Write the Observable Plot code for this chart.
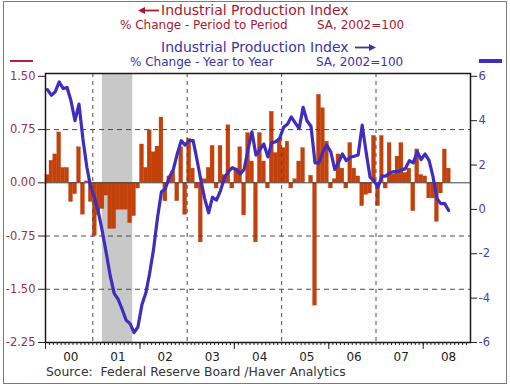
<!DOCTYPE html>
<html><head><meta charset="utf-8">
<script src="https://cdn.jsdelivr.net/npm/d3@7"></script>
<script src="https://cdn.jsdelivr.net/npm/@observablehq/plot@0.6"></script>
<style>
body{margin:0;background:#fff;font-family:"DejaVu Sans",sans-serif;}
#wrap{position:relative;width:510px;height:386px;overflow:hidden;background:#fff;}
.t{position:absolute;white-space:pre;line-height:0.9;}
.red{color:#a51932;}
.blue{color:#3c32aa;}
#border{position:absolute;left:3px;top:1px;width:502px;height:381px;border:1px solid #7a7a7a;pointer-events:none;z-index:3}
#chart{position:absolute;left:0;top:70px;}
</style></head><body>
<div id="wrap">
  <div id="border"></div>
  <svg style="position:absolute;left:138px;top:5.5px" width="22" height="9"><line x1="5" y1="4.5" x2="21" y2="4.5" stroke="#a51932" stroke-width="1.8"/><polygon points="0,4.5 7,1 7,8" fill="#a51932"/></svg>
  <div class="t red" style="left:161px;top:4.1px;font-size:14px">Industrial Production Index</div>
  <div class="t red" style="left:120px;top:20px;font-size:12px">% Change - Period to Period</div>
  <div class="t red" style="left:317px;top:20px;font-size:12px">SA, 2002=100</div>
  <div class="t blue" style="left:161px;top:40.9px;font-size:14px">Industrial Production Index</div>
  <svg style="position:absolute;left:355px;top:42.7px" width="22" height="9"><line x1="0" y1="4.5" x2="16" y2="4.5" stroke="#3c32aa" stroke-width="1.8"/><polygon points="21,4.5 14,1 14,8" fill="#3c32aa"/></svg>
  <div class="t blue" style="left:130px;top:57px;font-size:12px">% Change - Year to Year</div>
  <div class="t blue" style="left:316px;top:57px;font-size:12px">SA, 2002=100</div>
  <div style="position:absolute;left:10px;top:60px;width:23px;height:1.6px;background:#b0203a"></div>
  <div style="position:absolute;left:479px;top:59px;width:23px;height:4px;background:#3f2dbf"></div>
  <div id="chart"></div>
  <div class="t" style="left:46px;top:366.2px;font-size:12.4px;color:#333">Source:  Federal Reserve Board /Haver Analytics</div>
</div>
<script>
// ---- data ----
const startMonth = "2000-01-01";
const monthlyChange = [
  0.11, 0.31, 0.40, 0.71, 0.21, 0.21, -0.27, -0.16, 0.50, -0.45, 0.02, -0.27,
  -0.75, -0.46, -0.37, -0.18, -0.65, -0.65, -0.38, -0.38, -0.38, -0.57, -0.47, -0.08,
  0.54, 0.21, 0.74, 0.43, 0.51, 0.92, -0.26, 0.09, 0.16, -0.26, 0.50, -0.45,
  0.62, 0.20, -0.08, -0.84, 0.05, 0.21, 0.52, -0.08, 0.52, 0.11, 0.81, -0.08,
  0.20, 0.50, -0.46, 0.70, 0.30, -0.84, 0.70, 0.30, -0.08, 1.00, 0.42, 0.60,
  0.49, 0.58, -0.08, 0.05, 0.30, 0.49, 0.00, 0.10, -1.73, 1.24, 1.05, 0.58,
  -0.08, 0.05, 0.40, 0.20, -0.08, 0.56, 0.20, 0.09, -0.33, -0.17, -0.15, 0.66,
  -0.33, 0.66, -0.08, 0.56, 0.12, 0.37, 0.56, 0.14, 0.20, -0.40, 0.47, 0.11,
  0.09, -0.22, -0.22, -0.55, -0.15, 0.47, 0.20
];
const yoyChange = [
  5.4, 5.15, 5.3, 5.75, 5.45, 5.5, 4.9, 4.0, 4.75, 3.2, 1.9, 1.0,
  0.5, -0.2, -1.0, -2.0, -3.0, -3.8, -4.05, -4.5, -5.0, -5.15, -5.55, -5.3,
  -4.3, -3.75, -2.9, -1.8, -0.4, 0.8, 0.93, 1.45, 1.8, 2.5, 3.1, 2.9,
  3.1, 3.1, 2.3, 1.35, 0.5, -0.15, 0.55, 0.42, 0.85, 1.42, 1.7, 1.88,
  1.8, 1.6, 1.8, 2.7, 3.5, 2.45, 2.7, 2.95, 2.37, 3.0, 3.05, 3.2,
  3.7, 3.85, 4.17, 3.9, 3.64, 4.6, 4.0, 3.75, 2.1, 2.1, 2.6, 2.9,
  2.6, 1.8, 2.1, 2.5, 2.2, 2.35, 2.4, 2.45, 3.8, 2.6, 1.45, 1.3,
  1.0, 1.5, 1.5, 1.65, 1.7, 1.7, 1.78, 1.84, 2.2, 2.1, 2.6, 2.25,
  2.5, 2.2, 1.5, 0.5, 0.26, 0.26, -0.05
];
const leftTicks = [1.5, 0.75, 0, -0.75, -1.5, -2.25];
const rightTicks = [6, 4, 2, 0, -2, -4, -6];
const years = [2000, 2001, 2002, 2003, 2004, 2005, 2006, 2007, 2008];
const yearLabels = ["00", "01", "02", "03", "04", "05", "06", "07", "08"];
const dashedYears = [2001, 2003, 2005, 2007];
const majorTickYears = [2000, 2002, 2004, 2006, 2008];
const gridValues = [0.75, -0.75, -1.5];
const recession = [{start: "2001-03-16", end: "2001-11-06"}];
const xStart = "2000-01-01", xEnd = "2009-01-01";
const leftMin = -2.25, leftMax = 1.5, rightMin = -6, rightMax = 6;

// ---- derived ----
const toLeft = v => leftMin + (v - rightMin) * (leftMax - leftMin) / (rightMax - rightMin);
const fromLeft = l => rightMin + (l - leftMin) * (rightMax - rightMin) / (leftMax - leftMin);
const d0 = new Date(startMonth);
const dates = monthlyChange.map((_, i) => d3.utcMonth.offset(d0, i));
const bars = monthlyChange.map((v, i) => ({start: dates[i], end: d3.utcMonth.offset(dates[i], 1), v}));
const lineData = yoyChange.map((v, i) => ({date: d3.utcDay.offset(d3.utcMonth.offset(d0, i), 15), v: toLeft(v)}));
const yr = (y, m = 0, d = 1) => new Date(Date.UTC(y, m, d));

const chart = Plot.plot({
  width: 510, height: 316,
  marginTop: 3, marginBottom: 44, marginLeft: 45, marginRight: 40,
  style: {background: "transparent", fontFamily: "DejaVu Sans, sans-serif", overflow: "visible"},
  x: {type: "utc", domain: [new Date(xStart), new Date(xEnd)]},
  y: {domain: [-2.25, 1.54]},
  marks: [
    Plot.rect(recession, {x1: d => new Date(d.start), x2: d => new Date(d.end), fill: "#c8c8c8"}),
    Plot.rect(bars, {x1: "start", x2: "end", y1: 0, y2: "v", fill: "#c3410a", stroke: "#c3410a", strokeWidth: 0.3}),
    Plot.ruleY(gridValues, {stroke: "#4a4a4a", strokeDasharray: "5,4", strokeWidth: 1}),
    Plot.ruleX(dashedYears.map(y => yr(y)), {stroke: "#4a4a4a", strokeDasharray: "4,4", strokeWidth: 1}),
    Plot.ruleY([0], {stroke: "#444", strokeWidth: 1}),
    Plot.line(lineData, {x: "date", y: "v", stroke: "#3f2dbf", strokeWidth: 3.2, strokeLinejoin: "round"}),
    Plot.frame({stroke: "#1a1a1a", strokeWidth: 1.5}),
    Plot.axisY(leftTicks, {anchor: "left", tickSize: 7, tickPadding: 3, tickFormat: d => d.toFixed(2), fill: "#9b2d4a", stroke: "#222", fontSize: 11.5, label: null}),
    Plot.axisY(rightTicks.map(toLeft), {anchor: "right", tickSize: 6, tickPadding: 2, tickFormat: d => String(Math.round(fromLeft(d))), fill: "#4a3fa5", stroke: "#222", fontSize: 11.5, label: null}),
    Plot.axisX(d3.utcMonth.range(new Date(xStart), new Date(xEnd)), {tickSize: 3, tickFormat: () => "", stroke: "#222", label: null}),
    Plot.axisX(majorTickYears.map(y => yr(y)), {tickSize: 7, tickFormat: () => "", stroke: "#222", label: null}),
    Plot.axisX(years.map(y => yr(y, 6, 15)), {tickSize: 0, tickPadding: 10, tickFormat: d => yearLabels[years.indexOf(d.getUTCFullYear())], fill: "#222", fontSize: 12, label: null})
  ]
});
document.getElementById("chart").appendChild(chart);
</script>
</body></html>
